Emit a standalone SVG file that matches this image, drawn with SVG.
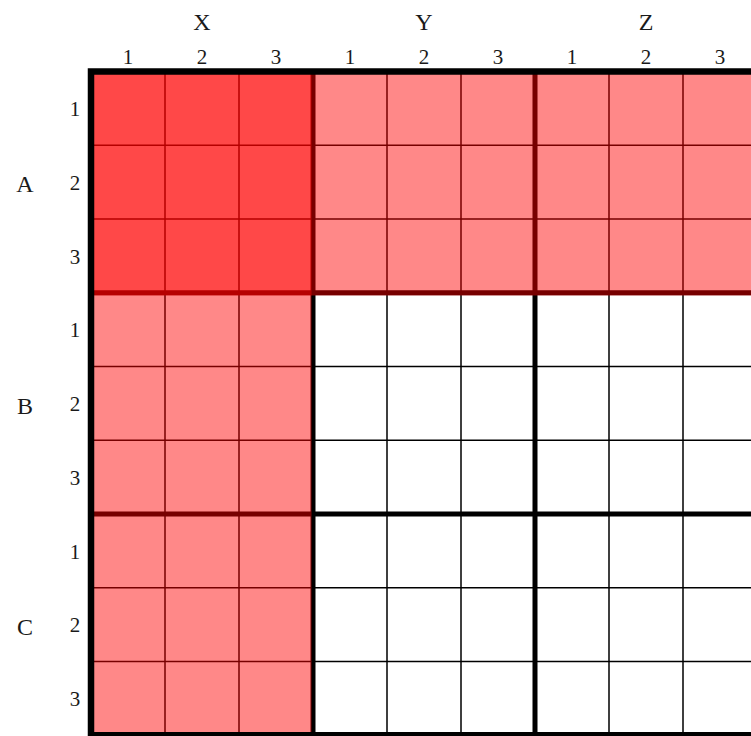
<svg xmlns="http://www.w3.org/2000/svg" width="751" height="736" viewBox="0 0 751 736">
<style>
.lbl{font-family:"Liberation Serif","DejaVu Serif",serif;fill:#1a1a1a;text-anchor:middle}
.num{font-size:21px}
.let{font-size:24px}
.thin{stroke:#000;stroke-width:1.5;fill:none}
.thick{stroke:#000;stroke-width:5;fill:none}
.hl{fill:#ff0000;fill-opacity:0.467}
</style>
<rect width="751" height="736" fill="#fff"/>
<g id="labels-columns">
<text class="lbl let" x="202" y="30">X</text>
<text class="lbl let" x="424" y="30">Y</text>
<text class="lbl let" x="646" y="30">Z</text>
<text class="lbl num" x="128" y="64">1</text>
<text class="lbl num" x="202" y="64">2</text>
<text class="lbl num" x="276" y="64">3</text>
<text class="lbl num" x="350" y="64">1</text>
<text class="lbl num" x="424" y="64">2</text>
<text class="lbl num" x="498" y="64">3</text>
<text class="lbl num" x="572" y="64">1</text>
<text class="lbl num" x="646" y="64">2</text>
<text class="lbl num" x="720" y="64">3</text>
</g>
<g id="labels-rows">
<text class="lbl let" x="25" y="192">A</text>
<text class="lbl let" x="25" y="414">B</text>
<text class="lbl let" x="25" y="635">C</text>
<text class="lbl num" x="75" y="116">1</text>
<text class="lbl num" x="75" y="190">2</text>
<text class="lbl num" x="75" y="264">3</text>
<text class="lbl num" x="75" y="337">1</text>
<text class="lbl num" x="75" y="411">2</text>
<text class="lbl num" x="75" y="485">3</text>
<text class="lbl num" x="75" y="559">1</text>
<text class="lbl num" x="75" y="632">2</text>
<text class="lbl num" x="75" y="706">3</text>
</g>
<g id="grid">
<path class="thin" d="M165 71.5V736M239 71.5V736M387 71.5V736M461 71.5V736M609 71.5V736M683 71.5V736M91 145.25H751M91 219H751M91 366.5H751M91 440.25H751M91 514H751M91 587.75H751M91 661.5H751"/>
<path class="thick" d="M313 71.5V736M535 71.5V736M91 292.75H751M91 514H751"/>
</g>
<g id="highlight">
<rect id="row-A" class="hl" x="91" y="71.5" width="660" height="224"/>
<rect id="col-X" class="hl" x="91" y="71.5" width="220.5" height="664.5"/>
</g>
<g id="border">
<path d="M91 736V71.5H751" stroke="#000" stroke-width="6.5" fill="none"/>
<path d="M91 735.25H751" stroke="#000" stroke-width="6.5" fill="none"/>
</g>
</svg>
